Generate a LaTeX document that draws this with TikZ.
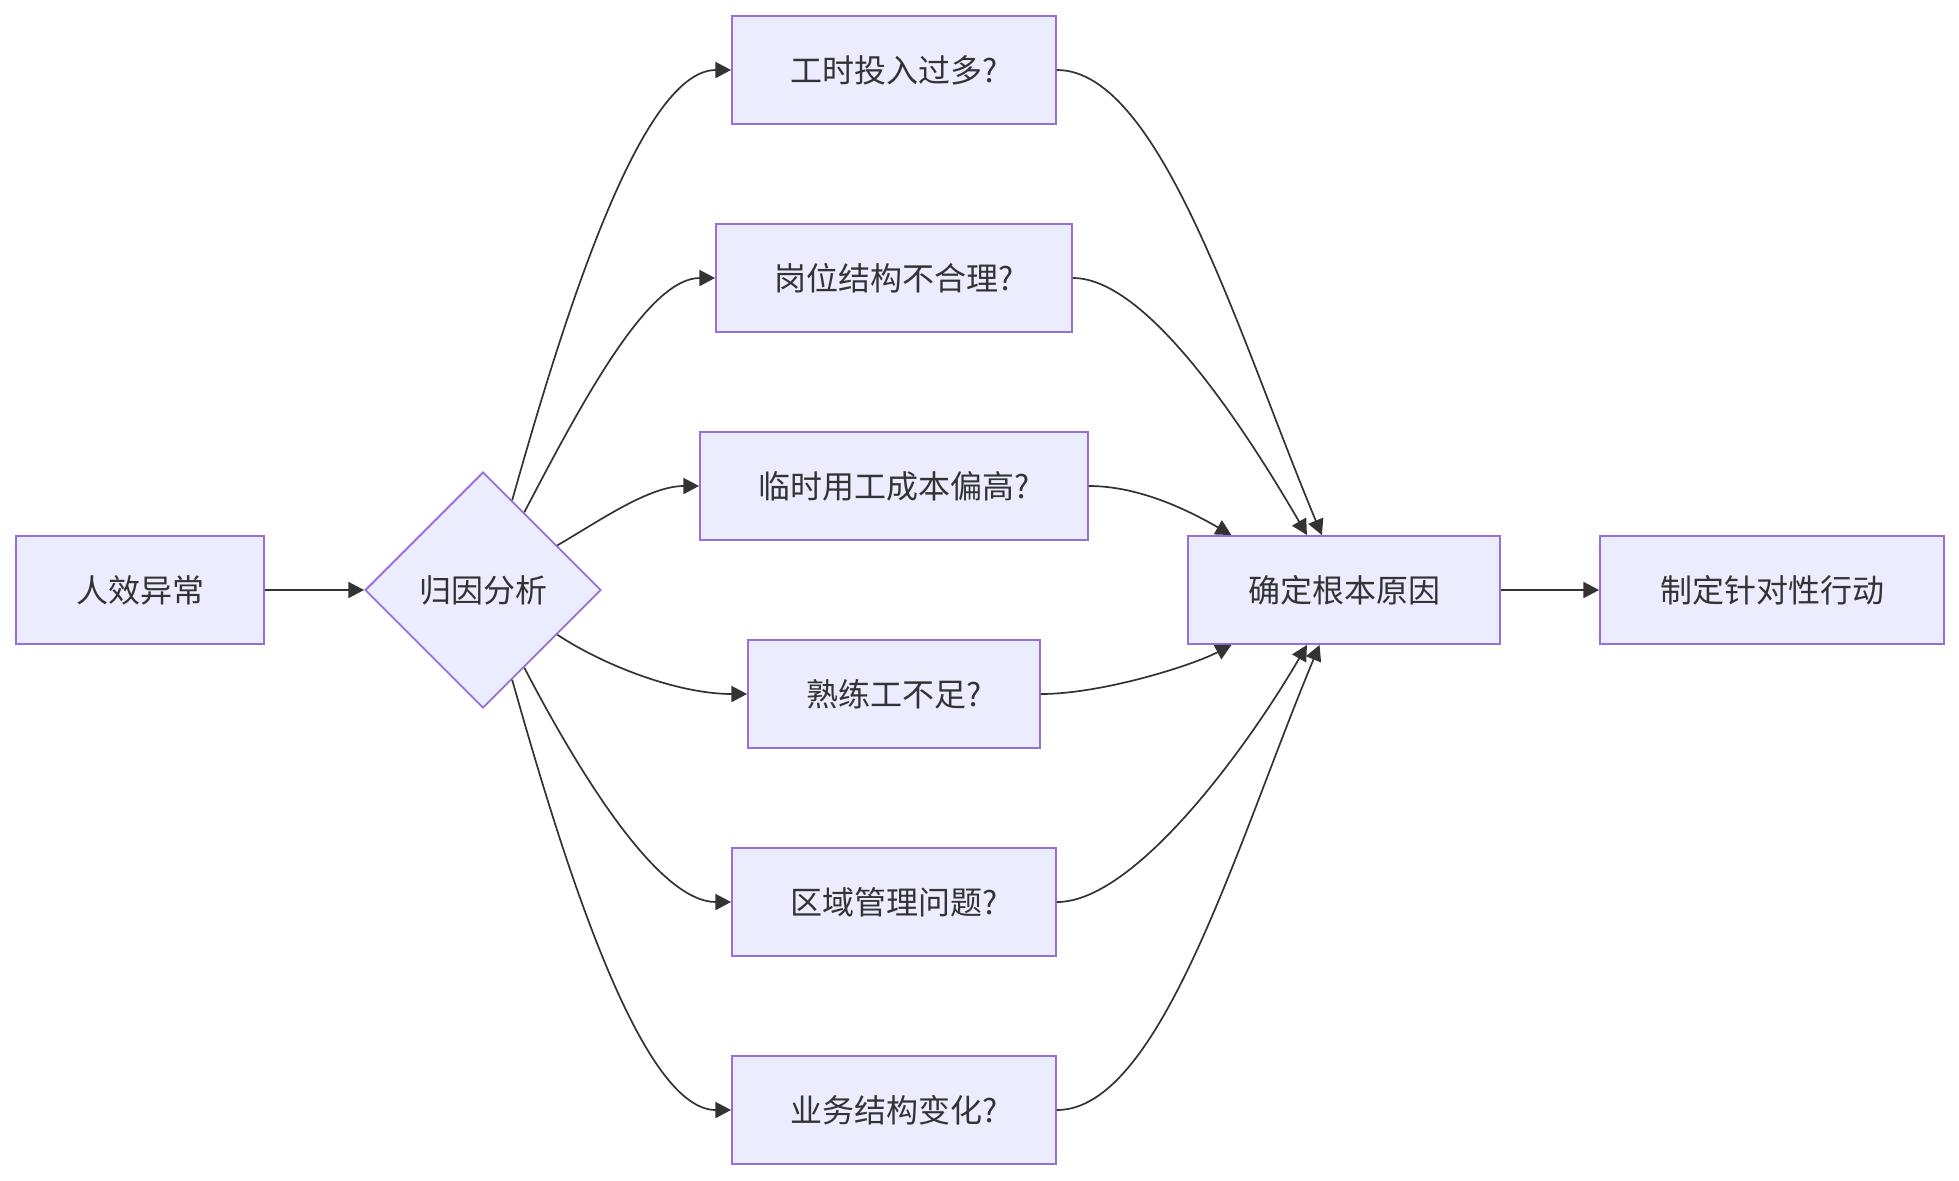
\documentclass[tikz,border=0pt]{standalone}
\usepackage{fontspec}
\newfontfamily\cjk{Noto Sans CJK SC}
\usetikzlibrary{arrows.meta,shapes.geometric}
\definecolor{nodeFill}{HTML}{ECECFF}
\definecolor{nodeLine}{HTML}{9370DB}
\definecolor{ink}{HTML}{333333}

\begin{document}
\begin{tikzpicture}[
    x=0.5pt, y=-0.5pt,
    every node/.style={font=\cjk\fontsize{16pt}{19pt}\selectfont, text=ink},
    box/.style={draw=nodeLine, fill=nodeFill, line width=0.95pt, minimum height=54pt, inner sep=0pt, align=center},
    decision/.style={diamond, aspect=1, draw=nodeLine, fill=nodeFill, line width=0.95pt, minimum width=118pt, minimum height=118pt, inner sep=0pt},
    flow/.style={-{Triangle[length=7.8pt, width=8pt]}, line width=0.85pt, draw=ink}
  ]
    % Pixel grid of the reference: x to the right, y downwards.
    \useasboundingbox (0,0) rectangle (1959,1180);

    \node[box, minimum width=124pt] (anomaly) at (140,590) {人效异常};
    \node[decision] (analysis) at (483,590) {归因分析};

    \node[box, minimum width=162pt] (hours) at (894,70) {工时投入过多?};
    \node[box, minimum width=178pt] (posts) at (894,278) {岗位结构不合理?};
    \node[box, minimum width=194pt] (tempCost) at (894,486) {临时用工成本偏高?};
    \node[box, minimum width=146pt] (skilled) at (894,694) {熟练工不足?};
    \node[box, minimum width=162pt] (region) at (894,902) {区域管理问题?};
    \node[box, minimum width=162pt] (business) at (894,1110) {业务结构变化?};

    \node[box, minimum width=156pt] (rootCause) at (1344,590) {确定根本原因};
    \node[box, minimum width=172pt] (action) at (1772,590) {制定针对性行动};

    \draw[flow] (anomaly.east) -- (analysis.west);

    \draw[flow] (analysis.72) .. controls +(48,-170) and +(-92,0) .. (hours.west);
    \draw[flow] (analysis.62) .. controls +(61,-117) and +(-66,0) .. (posts.west);
    \draw[flow] (analysis.31) .. controls +(43,-25) and +(-50,0) .. (tempCost.west);
    \draw[flow] (analysis.-31) .. controls +(45,30) and +(-70,0) .. (skilled.west);
    \draw[flow] (analysis.-62) .. controls +(61,117) and +(-70,0) .. (region.west);
    \draw[flow] (analysis.-72) .. controls +(48,170) and +(-92,0) .. (business.west);

    \draw[flow] (hours.east) .. controls +(104,0) and +(-82,-196) .. (rootCause.112);
    \draw[flow] (posts.east) .. controls +(78,0) and +(-53,-91) .. (rootCause.124);
    \draw[flow] (tempCost.east) .. controls +(52,0) and +(-40,-23) .. (rootCause.154);
    \draw[flow] (skilled.east) .. controls +(60,0) and +(-40,21) .. (rootCause.206);
    \draw[flow] (region.east) .. controls +(80,0) and +(-55,95) .. (rootCause.236);
    \draw[flow] (business.east) .. controls +(104,0) and +(-82,196) .. (rootCause.246);

    \draw[flow] (rootCause.east) -- (action.west);
  \end{tikzpicture}
\end{document}
